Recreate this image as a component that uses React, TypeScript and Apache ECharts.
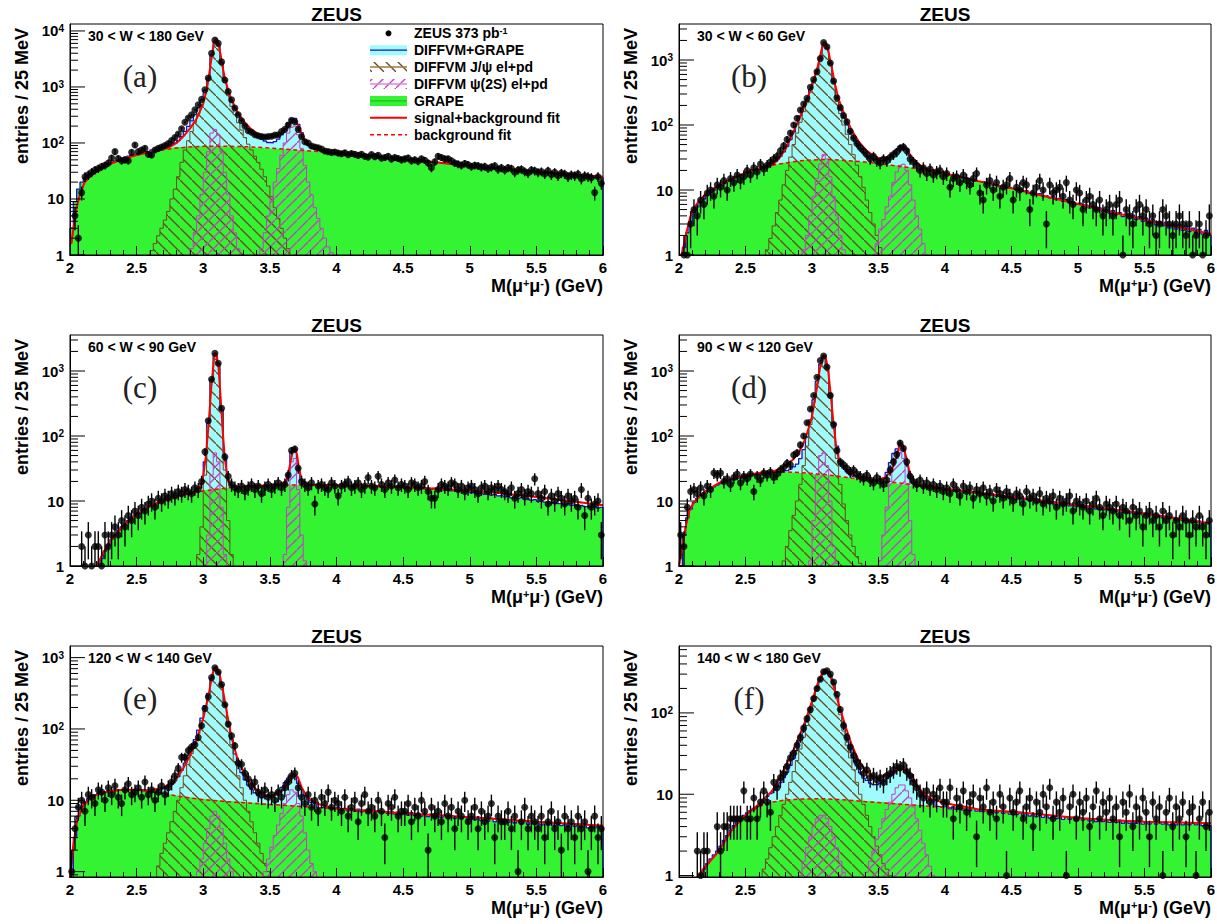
import React, { useEffect, useRef } from 'react';
import * as echarts from 'echarts';

// ---------------- axis / labels ----------------
const X_MIN = 2;
const X_MAX = 6;
const BIN = 0.025;
const panelLabels = ['(a)', '(b)', '(c)', '(d)', '(e)', '(f)'];
const wRanges = ['30 < W < 180 GeV', '30 < W < 60 GeV', '60 < W < 90 GeV', '90 < W < 120 GeV', '120 < W < 140 GeV', '140 < W < 180 GeV'];
const yMins = [1, 1, 1, 1, 0.84, 0.96];
const yMaxs = [13300, 3580, 3580, 3580, 1456, 665];
const legendLabels = ['ZEUS 373 pb{s|-1}', 'DIFFVM+GRAPE', 'DIFFVM J/ψ el+pd', 'DIFFVM ψ(2S) el+pd', 'GRAPE', 'signal+background fit', 'background fit'];

// ---------------- panel (a) 30<W<180 ----------------
const dataA = [
  0, 5, 2, 13, 25, 27, 30, 33, 35, 38,
  40, 44, 54, 70, 53, 48, 50, 48, 68, 92,
  70, 75, 80, 63, 61, 75, 80, 85, 90, 98,
  110, 125, 145, 180, 235, 280, 320, 390, 480, 600,
  890, 1450, 4000, 6900, 6000, 2800, 1330, 830, 590, 420,
  320, 250, 200, 165, 155, 140, 135, 130, 128, 130,
  132, 138, 140, 160, 175, 210, 255, 240, 175, 130,
  105, 100, 88, 85, 82, 78, 72, 70, 68, 69,
  66, 64, 67, 62, 65, 63, 60, 63, 58, 56,
  62, 57, 60, 54, 55, 58, 52, 55, 53, 50,
  52, 54, 48, 50, 47, 52, 49, 44, 36, 46,
  58, 55, 52, 52, 48, 44, 42, 40, 43, 41,
  38, 40, 39, 37, 38, 35, 37, 39, 34, 36,
  33, 36, 35, 30, 33, 34, 31, 29, 33, 32,
  30, 31, 28, 32, 27, 30, 26, 29, 28, 25,
  27, 26, 28, 23, 26, 25, 24, 13, 25, 19];
const grapeA = [
  3, 9, 15, 20, 24, 27, 29, 32, 34, 37,
  40, 42, 45, 48, 50, 53, 55, 58, 61, 63,
  65, 68, 70, 71, 74, 75, 77, 79, 80, 81,
  83, 84, 85, 85, 86, 87, 86, 88, 87, 88,
  87, 88, 87, 86, 88, 87, 86, 86, 85, 86,
  85, 84, 84, 83, 83, 82, 82, 81, 80, 80,
  79, 79, 78, 77, 77, 76, 75, 75, 74, 73,
  73, 72, 71, 71, 70, 69, 68, 68, 67, 66,
  66, 64, 65, 62, 64, 61, 62, 59, 60, 58,
  58, 57, 57, 55, 56, 54, 54, 53, 52, 52,
  51, 50, 50, 49, 48, 48, 47, 47, 46, 45,
  45, 44, 44, 43, 42, 42, 41, 41, 40, 40,
  39, 39, 38, 37, 37, 36, 36, 35, 35, 34,
  34, 34, 33, 33, 32, 32, 32, 31, 31, 30,
  30, 30, 29, 29, 29, 28, 28, 28, 27, 27,
  27, 26, 26, 26, 25, 25, 25, 24, 24, 24];
const jpsiStartA = 24;
const jpsiA = [1.2, 1.6, 2.2, 3, 4.2, 6, 10, 15, 25, 45, 75, 110, 160, 230, 330, 480, 750, 1300, 3500, 6300, 5500, 2600, 1200, 700, 450, 320, 230, 170, 125, 95, 75, 58, 45, 34, 25, 17, 11, 7, 4.5, 3, 2, 1.3];
const psiStartA = 36;
const psiA = [1.3, 2.5, 5, 12, 30, 70, 150, 175, 140, 70, 30, 12, 5, 2.5, 1.3, 0, 0, 0, 0, 0, 0, 1.3, 2.5, 5, 10, 20, 35, 60, 100, 150, 190, 200, 140, 80, 40, 20, 12, 7, 4.5, 3, 2, 1.4, 1.1];
const bgFitA = [[2.01, 1.6], [2.03, 3.5], [2.05, 7], [2.07, 11], [2.09, 15], [2.11, 20], [2.15, 25], [2.2, 31], [2.3, 42], [2.4, 52], [2.5, 61], [2.6, 69], [2.7, 76], [2.8, 81], [2.9, 85], [3.0, 87], [3.1, 88], [3.2, 87], [3.3, 86], [3.4, 84], [3.5, 81], [3.6, 78], [3.7, 75], [3.8, 72], [3.9, 69], [4.0, 66], [4.25, 58], [4.5, 51], [4.75, 45], [5.0, 39], [5.25, 35], [5.5, 31], [5.75, 28], [6.0, 25]];
const peakFitA = [[2.7, 77], [2.75, 85], [2.8, 100], [2.85, 130], [2.9, 180], [2.95, 270], [3.0, 500], [3.03, 1000], [3.06, 3000], [3.08, 6000], [3.095, 7500], [3.11, 6500], [3.13, 3800], [3.15, 2000], [3.17, 1200], [3.2, 700], [3.25, 380], [3.3, 250], [3.35, 185], [3.4, 150], [3.45, 133], [3.5, 128], [3.55, 135], [3.6, 155], [3.63, 185], [3.66, 235], [3.685, 260], [3.71, 210], [3.74, 145], [3.77, 105], [3.8, 88], [3.85, 78], [3.9, 71], [3.95, 68], [4.0, 66]];

// ---------------- panel (b) 30<W<60 ----------------
const dataB = [
  0, 1, 1, 3, 5, 4, 7, 6, 9, 10,
  8, 12, 11, 14, 10, 15, 13, 17, 14, 16,
  20, 17, 22, 19, 25, 21, 24, 27, 30, 33,
  40, 48, 60, 75, 100, 127, 170, 210, 257, 380,
  500, 660, 1050, 1850, 1600, 900, 475, 263, 185, 140,
  112, 80, 63, 52, 45, 40, 35, 30, 33, 28,
  26, 30, 28, 32, 35, 38, 44, 46, 40, 30,
  27, 24, 20, 22, 18, 21, 17, 19, 20, 16,
  18, 11, 15, 16, 13, 17, 14, 12, 15, 18,
  9, 7, 12, 14, 10, 13, 8, 11, 12, 15,
  7, 11, 10, 13, 12, 5, 9, 11, 14, 10,
  3, 12, 9, 10, 11, 8, 13, 7, 6, 10,
  9, 5, 7, 8, 6, 5, 7, 4, 5, 6,
  4, 6, 7, 1, 5, 4, 3, 5, 6, 4,
  5, 3, 4, 2, 3, 5, 4, 3, 2, 3,
  4, 3, 2, 3, 1, 2, 3, 1, 2, 4];
const grapeB = [
  0.6, 1.3, 2.2, 3.3, 4.5, 5.5, 6.5, 7.3, 8.3, 9,
  10, 11, 12, 12.5, 13.5, 14.5, 15, 16, 17, 17.5,
  18.5, 19, 20, 21, 21.5, 22, 23, 24, 24.5, 25,
  26, 26.5, 27, 27.5, 28, 28, 28.5, 29, 29, 29,
  29.5, 29.5, 29.5, 30, 29.5, 29.5, 29, 29, 29, 28.5,
  28.5, 28, 28, 27.5, 27, 27, 26.5, 26, 26, 25.5,
  25, 25, 24.5, 24, 24, 23.5, 23, 22.5, 22.5, 22,
  21.5, 21, 21, 20.5, 20, 19.5, 19.5, 19, 18.5, 18.5,
  18, 17.2, 17.4, 16.3, 16.2, 15.1, 15.4, 14.3, 14.5, 13.6,
  13.5, 13.5, 12.5, 12.8, 11.9, 12.1, 11.2, 11.6, 10.8, 11,
  10.6, 10, 10.4, 9.5, 9.8, 8.9, 9.2, 8.4, 8.8, 8,
  8.2, 7.6, 7.9, 7.1, 7.4, 6.7, 7.1, 6.3, 6.6, 6,
  6.3, 5.6, 5.9, 5.3, 5.6, 4.9, 5.3, 4.6, 5, 4.4,
  4.8, 4.2, 4.5, 3.9, 4.3, 3.7, 4.1, 3.5, 3.9, 3.3,
  3.7, 3.1, 3.5, 2.9, 3.3, 2.8, 3.2, 2.6, 3, 2.5,
  2.9, 2.4, 2.8, 2.3, 2.6, 2.2, 2.5, 2.1, 2.4, 2];
const jpsiStartB = 26;
const jpsiB = [1.2, 1.8, 2.8, 4.5, 7, 12, 20, 32, 50, 75, 110, 160, 220, 320, 450, 650, 1000, 1650, 1500, 850, 430, 230, 150, 100, 72, 50, 35, 24, 16, 11, 7, 4.5, 3, 2, 1.3];
const psiStartB = 37;
const psiB = [1.2, 2, 4, 8, 15, 25, 35, 30, 16, 8, 4, 2, 1.2, 0, 0, 0, 0, 0, 0, 0, 0, 1, 1.5, 2.5, 3.5, 5.5, 8, 13, 19, 24, 25, 20, 12, 7, 4, 2.5, 1.5, 1];
const bgFitB = [[2.0, 0.8], [2.03, 1.2], [2.05, 2], [2.08, 3.5], [2.1, 4.8], [2.15, 6.8], [2.2, 8.6], [2.3, 12], [2.4, 15], [2.5, 18.5], [2.6, 21.5], [2.7, 24], [2.8, 26], [2.9, 28], [3.0, 29], [3.1, 29.5], [3.2, 29], [3.3, 28], [3.4, 27], [3.5, 25.5], [3.6, 24], [3.7, 22.5], [3.8, 21], [3.9, 19.8], [4.0, 18], [4.25, 13.7], [4.5, 10.6], [4.75, 8], [5.0, 6.1], [5.25, 4.6], [5.5, 3.5], [5.75, 2.7], [6.0, 2.1]];
const peakFitB = [[2.7, 24], [2.75, 30], [2.8, 42], [2.85, 70], [2.9, 120], [2.95, 210], [3.0, 400], [3.04, 750], [3.07, 1400], [3.09, 1900], [3.11, 1750], [3.14, 950], [3.17, 450], [3.2, 250], [3.25, 135], [3.3, 82], [3.35, 56], [3.4, 42], [3.45, 35], [3.5, 31], [3.55, 31], [3.6, 34], [3.64, 41], [3.68, 47], [3.71, 43], [3.75, 32], [3.8, 25], [3.85, 21.5], [3.9, 19.8]];

// ---------------- panel (c) 60<W<90 ----------------
const dataC = [
  0, 0, 0, 2, 1, 3, 1, 2, 2, 1,
  3, 2, 3, 4, 3, 5, 4, 6, 5, 7,
  6, 8, 7, 9, 10, 8, 11, 10, 12, 11,
  13, 12, 14, 13, 15, 14, 13, 16, 15, 20,
  57, 172, 745, 1870, 1320, 267, 48, 24, 18, 16,
  15, 17, 14, 16, 18, 15, 17, 13, 16, 18,
  15, 17, 19, 16, 18, 25, 60, 63, 32, 20,
  18, 16, 19, 9, 17, 18, 16, 15, 19, 17,
  12, 17, 18, 20, 16, 17, 19, 15, 17, 23,
  17, 16, 24, 18, 15, 19, 17, 21, 16, 18,
  17, 15, 19, 18, 16, 17, 20, 14, 11, 11,
  15, 18, 17, 16, 19, 18, 15, 17, 14, 16,
  17, 15, 13, 16, 17, 14, 16, 15, 17, 15,
  14, 13, 16, 11, 13, 15, 12, 14, 13, 22,
  13, 11, 14, 9, 12, 10, 13, 11, 9, 12,
  10, 11, 8, 15, 6, 11, 8, 9, 10, 3];
const grapeC = [
  0, 0, 0, 0, 0, 0, 0, 0.6, 1, 1.3,
  1.7, 2.1, 2.6, 3, 3.5, 4, 4.5, 5, 5.6, 6.1,
  6.6, 7.1, 7.6, 8.1, 8.6, 9, 9.5, 10, 10.5, 11,
  11.4, 11.8, 12.2, 12.6, 13, 13.3, 13.6, 14, 14.2, 14.5,
  14.8, 15, 15.2, 15.3, 15.5, 15.6, 15.8, 16, 16, 16.2,
  16.3, 16.8, 16.2, 16.9, 16.4, 17.2, 16.6, 17.3, 16.8, 17.4,
  17, 17.6, 17.1, 17.7, 17.2, 17.8, 17.3, 17.9, 17.4, 17.9,
  17.5, 18, 17.4, 18, 17.5, 17.9, 17.4, 17.9, 17.3, 17.8,
  17.3, 17.7, 17.2, 17.6, 17.1, 17.6, 17, 17.5, 16.9, 17.4,
  16.8, 17.3, 16.7, 17.1, 16.5, 17, 16.4, 16.8, 16.2, 16.7,
  16, 16.5, 15.9, 16.3, 15.6, 16.1, 15.4, 15.9, 15.2, 15.6,
  14.9, 15.3, 14.6, 15, 14.3, 14.7, 14, 14.4, 13.7, 14.1,
  13.4, 13.7, 13, 13.4, 12.7, 13, 12.3, 12.7, 12, 12.3,
  11.6, 11.9, 11.2, 11.5, 10.9, 11.2, 10.5, 10.8, 10.2, 10.5,
  9.9, 10.1, 9.6, 9.8, 9.3, 9.6, 9.1, 9.3, 8.8, 9.1,
  8.6, 8.8, 8.4, 8.6, 8.2, 8.4, 8, 8.2, 7.8, 8];
const jpsiStartC = 38;
const jpsiC = [1.5, 4, 25, 140, 700, 1750, 1250, 230, 30, 5, 1.5];
const psiStartC = 41;
const psiC = [3, 25, 55, 40, 8, 1.5, 0, 0, 0, 0, 0, 0, 0, 0, 0, 0, 0, 0, 0, 0, 0, 0, 0, 1.5, 8, 40, 45, 15, 3, 1.2];
const bgFitC = [[2.15, 0.7], [2.2, 1], [2.25, 1.6], [2.3, 2.4], [2.4, 4.2], [2.5, 6.3], [2.6, 8.3], [2.7, 10], [2.8, 11.6], [2.9, 13], [3.0, 14.2], [3.1, 15.2], [3.2, 16], [3.3, 16.6], [3.4, 17.1], [3.5, 17.4], [3.6, 17.6], [3.7, 17.7], [3.8, 17.7], [3.9, 17.6], [4.0, 17.5], [4.25, 17], [4.5, 16.4], [4.75, 15.5], [5.0, 14.5], [5.25, 13.1], [5.5, 11.5], [5.75, 10], [6.0, 8.6]];
const peakFitC = [[2.9, 13], [2.95, 14], [2.98, 17], [3.0, 24], [3.02, 50], [3.04, 150], [3.06, 550], [3.08, 1500], [3.09, 1900], [3.1, 1800], [3.115, 1100], [3.13, 400], [3.145, 130], [3.16, 50], [3.18, 24], [3.2, 18], [3.25, 16.5], [3.3, 16.7], [3.4, 17.1], [3.5, 17.4], [3.55, 17.6], [3.6, 18.5], [3.63, 22], [3.655, 40], [3.675, 62], [3.69, 65], [3.705, 50], [3.72, 30], [3.74, 21], [3.77, 18.5], [3.8, 17.7]];

// ---------------- panel (d) 90<W<120 ----------------
const dataD = [
  3, 2, 8, 14, 15, 13, 16, 12, 17, 15,
  27, 25, 27, 20, 22, 18, 23, 26, 19, 24,
  22, 26, 14, 24, 21, 27, 25, 28, 23, 26,
  30, 33, 38, 36, 51, 55, 73, 100, 160, 260,
  420, 800, 1450, 1700, 1150, 420, 150, 60, 40, 36,
  32, 28, 30, 26, 24, 22, 25, 21, 19, 23,
  20, 18, 21, 30, 40, 52, 78, 65, 40, 24,
  20, 18, 21, 17, 19, 16, 18, 15, 17, 14,
  16, 13, 18, 15, 12, 17, 14, 16, 11, 15,
  13, 16, 12, 14, 10, 15, 13, 11, 14, 12,
  10, 13, 12, 9, 14, 11, 12, 10, 13, 9,
  11, 10, 12, 8, 11, 9, 10, 12, 7, 10,
  9, 8, 10, 7, 9, 11, 8, 6, 9, 8,
  7, 9, 6, 8, 7, 5, 8, 6, 7, 4,
  6, 7, 5, 6, 4, 7, 5, 6, 3, 5,
  4, 6, 5, 3, 5, 4, 6, 4, 3, 5];
const grapeD = [
  1, 3, 5.5, 7.5, 9.5, 11, 12, 13.5, 14.5, 15.5,
  16.5, 17.5, 18.5, 19.5, 20.5, 21, 22, 22.5, 23, 24,
  24.5, 25, 25.5, 26, 26.5, 27, 27, 27.5, 27.5, 28,
  28, 28, 27.5, 27.5, 27.5, 27, 27, 26.5, 26.5, 26,
  26, 25.5, 25.5, 25, 25, 24.5, 24, 24, 23.5, 23,
  23, 22.5, 22, 22, 21.5, 21, 21, 20.5, 20.5, 20,
  20, 19.5, 19.5, 19, 19, 18.5, 18.5, 18, 18, 17.5,
  17.5, 17, 17, 16.5, 16.5, 16, 16, 15.5, 15.5, 15,
  15.3, 14.6, 14.9, 14.1, 14.5, 13.7, 14.1, 13.4, 13.7, 13,
  13.3, 12.6, 12.9, 12.2, 12.5, 11.8, 12.1, 11.4, 11.7, 11,
  11.3, 10.6, 10.9, 10.3, 10.6, 10, 10.3, 9.7, 10, 9.4,
  9.7, 9.1, 9.4, 8.9, 9.2, 8.6, 8.9, 8.4, 8.7, 8.2,
  8.5, 8, 8.2, 7.7, 8, 7.5, 7.8, 7.3, 7.6, 7.1,
  7.4, 6.9, 7.2, 6.7, 7, 6.5, 6.8, 6.3, 6.6, 6.1,
  6.4, 5.9, 6.2, 5.7, 6, 5.5, 5.8, 5.3, 5.6, 5.1,
  5.4, 5, 5.2, 4.8, 5, 4.7, 4.9, 4.5, 4.7, 4.4];
const jpsiStartD = 31;
const jpsiD = [1.2, 2, 3.5, 6, 10, 18, 35, 70, 150, 330, 650, 1200, 1600, 1100, 420, 130, 45, 18, 9, 5, 3, 2, 1.4, 1.1];
const psiStartD = 39;
const psiD = [1.2, 5, 25, 50, 55, 35, 10, 2, 1.1, 0, 0, 0, 0, 0, 0, 0, 0, 0, 0, 0, 0, 1.2, 3, 8, 20, 35, 45, 60, 45, 18, 5, 1.5];
const bgFitD = [[2.0, 1], [2.02, 1.7], [2.05, 4], [2.08, 7.3], [2.12, 10], [2.16, 12], [2.2, 14], [2.3, 19], [2.4, 22], [2.5, 25], [2.6, 27], [2.7, 28], [2.8, 28], [2.9, 27.5], [3.0, 26.5], [3.1, 25.5], [3.2, 24], [3.3, 22.5], [3.4, 21.5], [3.5, 20.5], [3.6, 19.5], [3.7, 18.5], [3.8, 17.5], [3.9, 16.5], [4.0, 15.5], [4.25, 13.5], [4.5, 11.5], [4.75, 10], [5.0, 8.7], [5.25, 7.5], [5.5, 6.4], [5.75, 5.4], [6.0, 4.5]];
const peakFitD = [[2.7, 28], [2.75, 31], [2.8, 35], [2.85, 42], [2.9, 55], [2.95, 90], [3.0, 200], [3.03, 450], [3.06, 1100], [3.085, 1750], [3.1, 1700], [3.12, 1100], [3.14, 450], [3.16, 170], [3.18, 75], [3.2, 45], [3.25, 32], [3.3, 26], [3.35, 23], [3.4, 22], [3.45, 21], [3.5, 21], [3.55, 23], [3.6, 30], [3.63, 45], [3.66, 72], [3.68, 75], [3.7, 55], [3.73, 30], [3.76, 21], [3.8, 17.5]];

// ---------------- panel (e) 120<W<140 ----------------
const dataE = [
  1, 4, 8, 10, 7, 12, 11, 9, 14, 13,
  10, 15, 12, 16, 11, 9, 14, 17, 12, 13,
  15, 11, 18, 12, 14, 10, 13, 16, 12, 15,
  18, 22, 28, 40, 40, 50, 56, 60, 76, 111,
  194, 282, 525, 720, 630, 420, 218, 117, 80, 58,
  33, 32, 24, 20, 16, 18, 13, 12, 14, 11,
  12, 10, 13, 11, 15, 18, 22, 24, 15, 11,
  9, 12, 8, 10, 7, 11, 9, 13, 8, 10,
  9, 7, 11, 6, 8, 10, 5, 9, 12, 7,
  8, 6, 10, 7, 3, 9, 8, 11, 6, 7,
  7, 9, 5, 8, 6, 10, 7, 2, 8, 6,
  7, 5, 9, 6, 8, 4, 7, 6, 10, 5,
  6, 8, 4, 7, 5, 6, 9, 3, 6, 5,
  5, 7, 4, 6, 1, 5, 8, 4, 6, 5,
  4, 6, 3, 5, 7, 4, 5, 2, 6, 4,
  5, 3, 6, 4, 5, 1, 4, 6, 3, 4];
const grapeE = [
  0.8, 3, 6, 8, 9.5, 10.5, 11.5, 12, 12.5, 13,
  13, 13.5, 13.5, 14, 14, 14, 14, 14, 14, 13.8,
  13.8, 13.6, 13.5, 13.3, 13.1, 12.9, 12.7, 12.5, 12.3, 12.1,
  11.9, 11.7, 11.5, 11.3, 11.2, 11, 10.9, 10.7, 10.6, 10.5,
  10.4, 10.3, 10.2, 10.1, 10, 9.9, 9.8, 9.8, 9.7, 9.6,
  9.5, 9.5, 9.4, 9.3, 9.2, 9.2, 9.1, 9, 9, 8.9,
  8.8, 8.8, 8.7, 8.6, 8.6, 8.5, 8.4, 8.4, 8.3, 8.2,
  8.2, 8.1, 8, 8, 7.9, 7.9, 7.8, 7.7, 7.7, 7.6,
  7.9, 7.3, 7.7, 7.1, 7.6, 7, 7.5, 6.9, 7.3, 6.8,
  7.2, 6.7, 7.1, 6.6, 7, 6.5, 6.9, 6.4, 6.8, 6.3,
  6.8, 6.2, 6.7, 6.1, 6.6, 6, 6.5, 5.9, 6.4, 5.8,
  6.3, 5.7, 6.2, 5.6, 6.1, 5.6, 6, 5.5, 5.9, 5.4,
  5.9, 5.3, 5.8, 5.2, 5.7, 5.1, 5.6, 5, 5.5, 5,
  5.4, 4.9, 5.3, 4.8, 5.2, 4.7, 5.2, 4.6, 5.1, 4.6,
  5, 4.5, 4.9, 4.5, 4.9, 4.4, 4.8, 4.4, 4.7, 4.3,
  4.7, 4.3, 4.6, 4.2, 4.6, 4.1, 4.5, 4.1, 4.4, 4];
const jpsiStartE = 26;
const jpsiE = [1.2, 1.8, 2.5, 3.5, 5, 7, 10, 15, 22, 32, 45, 60, 85, 130, 200, 300, 500, 700, 620, 400, 210, 110, 60, 35, 22, 15, 10, 7, 5, 3.5, 2.5, 1.8, 1.3, 1];
const psiStartE = 38;
const psiE = [1, 1.5, 2.5, 4, 6, 7, 6, 4, 2.5, 1.5, 1, 0, 0, 0, 0, 0, 0, 0, 0, 0, 1, 1.5, 2.2, 3.2, 4.5, 6.5, 9, 12, 14, 13, 9, 6, 3.5, 2, 1.3, 1];
const bgFitE = [[2.0, 0.8], [2.02, 2], [2.05, 5], [2.1, 8.5], [2.15, 10.5], [2.2, 12], [2.3, 13.5], [2.4, 14], [2.5, 14], [2.6, 13.5], [2.7, 12.5], [2.8, 11.5], [2.9, 10.8], [3.0, 10.2], [3.2, 9.5], [3.4, 9], [3.6, 8.5], [3.8, 8], [4.0, 7.6], [4.5, 6.6], [5.0, 5.8], [5.5, 5], [6.0, 4.4]];
const peakFitE = [[2.6, 13.8], [2.7, 15], [2.8, 20], [2.85, 28], [2.9, 42], [2.95, 70], [3.0, 140], [3.04, 300], [3.07, 600], [3.095, 760], [3.12, 620], [3.15, 330], [3.18, 160], [3.21, 80], [3.25, 42], [3.3, 26], [3.35, 18], [3.4, 14], [3.45, 12], [3.5, 11.5], [3.55, 12], [3.6, 14], [3.65, 19], [3.68, 24], [3.71, 21], [3.74, 15], [3.78, 11], [3.85, 9], [3.95, 7.9], [4.0, 7.6]];

// ---------------- panel (f) 140<W<180 ----------------
const dataF = [
  0, 0, 0, 0, 0, 2, 1, 2, 2, 0,
  0, 4, 2, 4, 4, 5, 5, 5, 5, 11,
  5, 5, 9, 5, 8, 11, 8, 6, 14, 12,
  16, 18, 22, 28, 32, 40, 50, 65, 85, 110,
  150, 200, 260, 320, 330, 300, 240, 170, 110, 70,
  50, 38, 30, 25, 22, 18, 20, 16, 17, 15,
  16, 14, 17, 18, 20, 22, 21, 23, 19, 17,
  14, 12, 10, 9, 11, 8, 10, 9, 12, 8,
  8, 12, 5, 9, 7, 11, 6, 8, 10, 3,
  9, 7, 12, 6, 8, 5, 10, 7, 1, 9,
  6, 8, 11, 5, 7, 9, 4, 8, 6, 10,
  7, 12, 5, 8, 6, 9, 1, 7, 10, 5,
  8, 6, 9, 4, 7, 11, 5, 8, 6, 9,
  5, 7, 3, 8, 6, 10, 4, 7, 5, 9,
  6, 3, 8, 5, 7, 1, 6, 9, 4, 7,
  5, 8, 3, 6, 7, 1, 5, 8, 4, 6];
const grapeF = [
  0, 0, 0, 0, 0, 0.5, 1, 1.2, 1.4, 1.6,
  1.8, 2, 2.3, 2.7, 3.1, 3.6, 4.1, 4.6, 5, 5.5,
  5.9, 6.3, 6.7, 7, 7.3, 7.5, 7.8, 8, 8.2, 8.3,
  8.4, 8.5, 8.6, 8.6, 8.7, 8.7, 8.8, 8.8, 8.8, 8.8,
  8.8, 8.8, 8.8, 8.8, 8.7, 8.7, 8.7, 8.6, 8.6, 8.6,
  8.5, 8.5, 8.4, 8.4, 8.3, 8.3, 8.2, 8.2, 8.1, 8,
  8, 7.9, 7.9, 7.8, 7.8, 7.7, 7.7, 7.6, 7.5, 7.5,
  7.4, 7.4, 7.3, 7.3, 7.2, 7.2, 7.1, 7.1, 7, 7,
  7.2, 6.6, 7, 6.5, 6.9, 6.4, 6.8, 6.3, 6.7, 6.2,
  6.5, 6.1, 6.4, 6, 6.3, 5.9, 6.2, 5.8, 6.1, 5.7,
  6, 5.6, 5.9, 5.5, 5.8, 5.4, 5.7, 5.3, 5.6, 5.2,
  5.5, 5.1, 5.4, 5, 5.3, 4.9, 5.3, 4.9, 5.2, 4.8,
  5.1, 4.8, 5, 4.7, 5, 4.6, 4.9, 4.6, 4.9, 4.5,
  4.8, 4.5, 4.8, 4.4, 4.7, 4.4, 4.7, 4.4, 4.6, 4.3,
  4.6, 4.3, 4.6, 4.3, 4.5, 4.3, 4.5, 4.2, 4.5, 4.2,
  4.5, 4.2, 4.4, 4.2, 4.4, 4.2, 4.4, 4.1, 4.4, 4.1];
const jpsiStartF = 25;
const jpsiF = [1.2, 1.6, 2.2, 3, 4, 5.5, 7.5, 10, 14, 19, 26, 36, 50, 70, 100, 140, 190, 250, 300, 310, 280, 220, 150, 95, 60, 40, 28, 20, 14, 10, 7.5, 5.5, 4, 3, 2.3, 1.8, 1.4, 1.2, 1];
const psiStartF = 36;
const psiF = [1, 1.5, 2.2, 3, 4, 5, 5.5, 5.5, 5, 4, 3, 2.2, 1.5, 1.1, 0, 0, 0, 0, 0, 0, 1.1, 1.5, 2, 2.8, 3.8, 5, 6.5, 8, 10, 12, 13, 13, 11, 9, 7, 5, 3.6, 2.5, 1.8, 1.3, 1];
const bgFitF = [[2.1, 0.6], [2.15, 1], [2.2, 1.3], [2.3, 2], [2.4, 3.7], [2.5, 5.5], [2.6, 7], [2.7, 8], [2.8, 8.5], [2.9, 8.7], [3.0, 8.8], [3.1, 8.8], [3.2, 8.6], [3.3, 8.4], [3.4, 8.1], [3.5, 7.9], [3.6, 7.7], [3.7, 7.5], [3.8, 7.3], [3.9, 7.1], [4.0, 6.9], [4.25, 6.5], [4.5, 6.1], [4.75, 5.6], [5.0, 5.1], [5.25, 4.8], [5.5, 4.6], [5.75, 4.5], [6.0, 4.4]];
const peakFitF = [[2.6, 7.5], [2.7, 11], [2.75, 15], [2.8, 22], [2.85, 32], [2.9, 50], [2.95, 80], [3.0, 140], [3.05, 250], [3.09, 340], [3.12, 320], [3.15, 250], [3.2, 130], [3.25, 70], [3.3, 40], [3.35, 26], [3.4, 20], [3.45, 17], [3.5, 16], [3.55, 17], [3.6, 18], [3.65, 20], [3.7, 21], [3.75, 17], [3.8, 12], [3.85, 10], [3.9, 8.7], [4.0, 7.8], [4.1, 7.2], [4.2, 6.8], [4.25, 6.5]];

// ---------------- styling ----------------
const CYAN = '#9ffcfc';
const GREEN = '#33f333';
const BLUE = '#1414c8';
const BROWN = '#6b4a22';
const MAGENTA = '#c83cc8';
const RED = '#ff0000';
const FONT = '"Liberation Sans", Arial, Helvetica, sans-serif';
const FLOOR = 0.01;

const PANEL_LEFT = [70, 679];
const PANEL_TOP = [24, 335, 646];
const PANEL_W = [533, 532];
const PANEL_H = 231;

type Panel = {
  data: number[]; grape: number[]; jpsi: number[]; js: number; psi: number[]; ps: number;
  bgFit: number[][]; peakFit: number[][];
};
const panels: Panel[] = [
  { data: dataA, grape: grapeA, jpsi: jpsiA, js: jpsiStartA, psi: psiA, ps: psiStartA, bgFit: bgFitA, peakFit: peakFitA },
  { data: dataB, grape: grapeB, jpsi: jpsiB, js: jpsiStartB, psi: psiB, ps: psiStartB, bgFit: bgFitB, peakFit: peakFitB },
  { data: dataC, grape: grapeC, jpsi: jpsiC, js: jpsiStartC, psi: psiC, ps: psiStartC, bgFit: bgFitC, peakFit: peakFitC },
  { data: dataD, grape: grapeD, jpsi: jpsiD, js: jpsiStartD, psi: psiD, ps: psiStartD, bgFit: bgFitD, peakFit: peakFitD },
  { data: dataE, grape: grapeE, jpsi: jpsiE, js: jpsiStartE, psi: psiE, ps: psiStartE, bgFit: bgFitE, peakFit: peakFitE },
  { data: dataF, grape: grapeF, jpsi: jpsiF, js: jpsiStartF, psi: psiF, ps: psiStartF, bgFit: bgFitF, peakFit: peakFitF },
];

function histOutline(vals: number[], start: number) {
  const pts: number[][] = [[X_MIN + start * BIN, FLOOR]];
  vals.forEach((v, k) => {
    const x1 = X_MIN + (start + k) * BIN;
    const y = v > 0 ? v : FLOOR;
    pts.push([x1, y], [x1 + BIN, y]);
  });
  pts.push([X_MIN + (start + vals.length) * BIN, FLOOR]);
  return pts;
}

function totalOf(p: Panel) {
  return p.grape.map((g, i) => {
    let t = g;
    if (i >= p.js && i < p.js + p.jpsi.length) t += p.jpsi[i - p.js];
    if (i >= p.ps && i < p.ps + p.psi.length) t += p.psi[i - p.ps];
    return t;
  });
}

function fullFit(p: Panel) {
  const a = p.peakFit[0][0];
  const b = p.peakFit[p.peakFit.length - 1][0];
  return [
    ...p.bgFit.filter((q) => q[0] < a),
    ...p.peakFit,
    ...p.bgFit.filter((q) => q[0] > b),
  ];
}

function hatch(color: string, forward: boolean, s: number) {
  const cv = document.createElement('canvas');
  cv.width = s;
  cv.height = s;
  const g = cv.getContext('2d')!;
  g.strokeStyle = color;
  g.lineWidth = 1.3;
  g.beginPath();
  if (forward) {
    g.moveTo(-2, s + 2);
    g.lineTo(s + 2, -2);
  } else {
    g.moveTo(-2, -2);
    g.lineTo(s + 2, s + 2);
  }
  g.stroke();
  return { image: cv, repeat: 'repeat', imageWidth: s, imageHeight: s };
}

function yTickData(min: number, max: number) {
  const out: number[][] = [];
  for (let e = Math.floor(Math.log10(min)); e <= Math.ceil(Math.log10(max)); e++) {
    for (let m = 1; m <= 9; m++) {
      const v = m * Math.pow(10, e);
      if (v >= min * 0.999 && v <= max * 1.001) out.push([X_MIN, v, m === 1 ? 1 : 0]);
    }
  }
  return out;
}

function buildOption() {
  const brownHatch = hatch(BROWN, false, 12);
  const magHatch = hatch(MAGENTA, true, 11);
  const grids: any[] = [];
  const xAxes: any[] = [];
  const yAxes: any[] = [];
  const series: any[] = [];
  const graphics: any[] = [];

  panels.forEach((p, k) => {
    const col = k % 2;
    const row = Math.floor(k / 2);
    const L = PANEL_LEFT[col];
    const T = PANEL_TOP[row];
    const W = PANEL_W[col];
    const H = PANEL_H;
    const yMin = yMins[k];
    const yMax = yMaxs[k];
    grids.push({ left: L, top: T, width: W, height: H, show: false, containLabel: false, outerBoundsMode: 'none' });
    xAxes.push({
      type: 'value', gridIndex: k, min: X_MIN, max: X_MAX, interval: 0.5, z: 10,
      axisLine: { show: true, onZero: false, lineStyle: { color: '#000', width: 1 } },
      axisTick: { show: true, inside: true, length: 9, lineStyle: { color: '#000', width: 1 } },
      minorTick: { show: true, splitNumber: 5, length: 5, lineStyle: { color: '#000', width: 1 } },
      splitLine: { show: false },
      axisLabel: {
        margin: 5, color: '#000', fontSize: 15, fontWeight: 'bold', fontFamily: FONT,
        formatter: (v: number) => String(Math.round(v * 10) / 10),
      },
    });
    yAxes.push({
      type: 'log', logBase: 10, gridIndex: k, min: yMin, max: yMax, z: 10,
      axisLine: { show: true, lineStyle: { color: '#000', width: 1 } },
      axisTick: { show: false },
      minorTick: { show: false },
      splitLine: { show: false },
      axisLabel: {
        margin: 6, color: '#000', fontSize: 15, fontWeight: 'bold', fontFamily: FONT,
        formatter: (v: number) => {
          const l = Math.log10(v);
          const e = Math.round(l);
          if (Math.abs(l - e) > 1e-6) return '';
          if (e === 0) return '1';
          if (e === 1) return '10';
          return '10{s|' + e + '}';
        },
        rich: { s: { fontSize: 10, fontWeight: 'bold', fontFamily: FONT, color: '#000', verticalAlign: 'top' } },
      },
    });

    const base = { xAxisIndex: k, yAxisIndex: k, silent: true, animation: false, emphasis: { disabled: true } };
    const total = totalOf(p);
    series.push({ ...base, type: 'line', z: 1, data: histOutline(total, 0), symbol: 'none', lineStyle: { opacity: 0 }, areaStyle: { color: CYAN, opacity: 1, origin: 'start' } });
    series.push({ ...base, type: 'line', z: 2, data: histOutline(p.grape, 0), symbol: 'none', lineStyle: { opacity: 0 }, areaStyle: { color: GREEN, opacity: 1, origin: 'start' } });
    series.push({ ...base, type: 'line', z: 3, data: histOutline(total, 0), symbol: 'none', lineStyle: { color: BLUE, width: 1.3 } });
    series.push({ ...base, type: 'line', z: 4, data: histOutline(p.jpsi, p.js), symbol: 'none', lineStyle: { color: BROWN, width: 1 }, areaStyle: { color: brownHatch, opacity: 1, origin: 'start' } });
    series.push({ ...base, type: 'line', z: 5, data: histOutline(p.psi, p.ps), symbol: 'none', lineStyle: { color: MAGENTA, width: 1 }, areaStyle: { color: magHatch, opacity: 1, origin: 'start' } });
    series.push({ ...base, type: 'line', z: 6, data: p.bgFit, symbol: 'none', lineStyle: { color: RED, width: 1.5, type: [4, 3] } });
    series.push({ ...base, type: 'line', z: 7, data: fullFit(p), symbol: 'none', lineStyle: { color: RED, width: 2 } });

    const pts = p.data.map((n, i) => [X_MIN + (i + 0.5) * BIN, n]).filter((q) => q[1] > 0);
    series.push({
      ...base, type: 'custom', z: 8, data: pts,
      renderItem: (params: any, api: any) => {
        const x = api.value(0);
        const n = api.value(1);
        const e = Math.sqrt(n);
        const hi = api.coord([x, n + e]);
        const cs = params.coordSys;
        const lo = n - e > yMin * 0.5 ? api.coord([x, n - e])[1] : cs.y + cs.height;
        const y1 = Math.max(hi[1], cs.y);
        const y2 = Math.min(lo, cs.y + cs.height);
        return { type: 'line', shape: { x1: hi[0], y1, x2: hi[0], y2 }, style: { stroke: '#000', lineWidth: 1.4 } };
      },
    });
    series.push({ ...base, type: 'scatter', z: 9, data: pts, symbol: 'circle', symbolSize: 7, itemStyle: { color: '#000' }, clip: true });
    series.push({
      ...base, type: 'custom', z: 10, data: yTickData(yMin, yMax),
      renderItem: (params: any, api: any) => {
        const pt = api.coord([api.value(0), api.value(1)]);
        const len = api.value(2) ? 15 : 8;
        return { type: 'line', shape: { x1: pt[0], y1: pt[1], x2: pt[0] + len, y2: pt[1] }, style: { stroke: '#000', lineWidth: 1 } };
      },
    });

    // frame
    graphics.push({ type: 'rect', z: 100, silent: true, shape: { x: L, y: T, width: W, height: H }, style: { fill: 'none', stroke: '#000', lineWidth: 1 } });
    // title
    graphics.push({ type: 'text', z: 100, x: L + W / 2, y: T - 10, style: { text: 'ZEUS', fontSize: 19, fontWeight: 'bold', fontFamily: FONT, fill: '#000', align: 'center', verticalAlign: 'middle', textAlign: 'center', textVerticalAlign: 'middle' } });
    // W range
    graphics.push({ type: 'text', z: 100, x: L + 18, y: T + 12, style: { text: wRanges[k], fontSize: 14, fontWeight: 'bold', fontFamily: FONT, fill: '#000', align: 'left', verticalAlign: 'middle', textAlign: 'left', textVerticalAlign: 'middle' } });
    // panel label
    graphics.push({ type: 'text', z: 100, x: L + 70, y: T + 52, style: { text: panelLabels[k], fontSize: 31, fontFamily: '"Liberation Serif", "DejaVu Serif", serif', fill: '#222', align: 'center', verticalAlign: 'middle', textAlign: 'center', textVerticalAlign: 'middle' } });
    // y name
    graphics.push({ type: 'text', z: 100, x: L - 48, y: T + 4, rotation: Math.PI / 2, style: { text: 'entries / 25 MeV', fontSize: 18, fontWeight: 'bold', fontFamily: FONT, fill: '#000', align: 'right', verticalAlign: 'middle', textAlign: 'right', textVerticalAlign: 'middle' } });
    // x name
    graphics.push({
      type: 'text', z: 100, x: L + W, y: T + H + 31,
      style: {
        text: 'M(μ{s|+}μ{s|-}) (GeV)', fontSize: 18, fontWeight: 'bold', fontFamily: FONT, fill: '#000',
        align: 'right', verticalAlign: 'middle', textAlign: 'right', textVerticalAlign: 'middle',
        rich: { s: { fontSize: 11, fontWeight: 'bold', fontFamily: FONT, fill: '#000', verticalAlign: 'top' } },
      },
    });
  });

  // legend (panel a)
  const lx = 370;
  const lw = 37;
  const tx = 414;
  const ly0 = 33.3;
  const ldy = 16.9;
  const ly = (i: number) => ly0 + i * ldy;
  graphics.push({ type: 'circle', z: 110, shape: { cx: lx + lw / 2, cy: ly(0), r: 3 }, style: { fill: '#000' } });
  graphics.push({ type: 'rect', z: 110, shape: { x: lx, y: ly(1) - 5, width: lw, height: 10 }, style: { fill: CYAN } });
  graphics.push({ type: 'line', z: 111, shape: { x1: lx, y1: ly(1), x2: lx + lw, y2: ly(1) }, style: { stroke: BLUE, lineWidth: 1.3 } });
  graphics.push({ type: 'rect', z: 110, shape: { x: lx, y: ly(2) - 5, width: lw, height: 10 }, style: { fill: brownHatch } });
  graphics.push({ type: 'line', z: 111, shape: { x1: lx, y1: ly(2), x2: lx + lw, y2: ly(2) }, style: { stroke: '#a07840', lineWidth: 1.5 } });
  graphics.push({ type: 'rect', z: 110, shape: { x: lx, y: ly(3) - 5, width: lw, height: 10 }, style: { fill: magHatch } });
  graphics.push({ type: 'line', z: 111, shape: { x1: lx, y1: ly(3), x2: lx + lw, y2: ly(3) }, style: { stroke: '#dd88dd', lineWidth: 1.5 } });
  graphics.push({ type: 'rect', z: 110, shape: { x: lx, y: ly(4) - 5, width: lw, height: 10 }, style: { fill: GREEN } });
  graphics.push({ type: 'line', z: 111, shape: { x1: lx, y1: ly(4), x2: lx + lw, y2: ly(4) }, style: { stroke: '#22aa22', lineWidth: 1 } });
  graphics.push({ type: 'line', z: 111, shape: { x1: lx, y1: ly(5), x2: lx + lw, y2: ly(5) }, style: { stroke: RED, lineWidth: 2 } });
  graphics.push({ type: 'line', z: 111, shape: { x1: lx, y1: ly(6), x2: lx + lw, y2: ly(6) }, style: { stroke: RED, lineWidth: 1.5, lineDash: [4, 3] } });
  legendLabels.forEach((t, i) => {
    graphics.push({
      type: 'text', z: 111, x: tx, y: ly(i),
      style: {
        text: t, fontSize: 14, fontWeight: 'bold', fontFamily: FONT, fill: '#000',
        align: 'left', verticalAlign: 'middle', textAlign: 'left', textVerticalAlign: 'middle',
        rich: { s: { fontSize: 9, fontWeight: 'bold', fontFamily: FONT, fill: '#000', verticalAlign: 'top' } },
      },
    });
  });

  return {
    animation: false,
    backgroundColor: '#fff',
    grid: grids,
    xAxis: xAxes,
    yAxis: yAxes,
    series,
    graphic: { elements: graphics },
  };
}

export default function App() {
  const ref = useRef<HTMLDivElement>(null);
  useEffect(() => {
    const chart = echarts.init(ref.current as HTMLDivElement, null, { renderer: 'svg', width: 1217, height: 924 });
    chart.setOption(buildOption() as any);
    return () => chart.dispose();
  }, []);
  return <div ref={ref} style={{ position: 'absolute', left: 0, top: 0, width: 1217, height: 924, background: '#fff' }} />;
}
